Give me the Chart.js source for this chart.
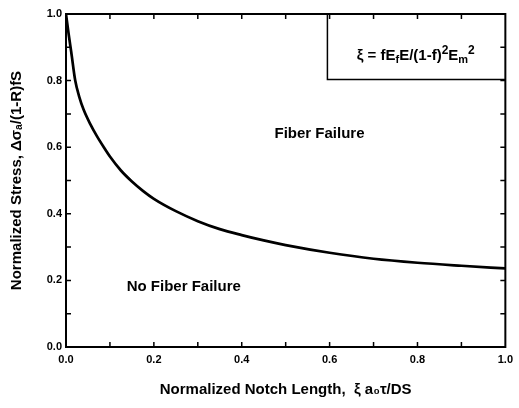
<!DOCTYPE html>
<html><head><meta charset="utf-8">
<script src="https://cdn.jsdelivr.net/npm/chart.js@4"></script>
<style>html,body{margin:0;padding:0;background:#fff}#wrap{width:519px;height:408px}</style>
</head><body><div id="wrap"><canvas id="c" width="519" height="408"></canvas></div>
<script>
// ---- data ----
const notchLength = [0, 0.006, 0.012, 0.021, 0.030, 0.040, 0.055, 0.070, 0.085, 0.100, 0.125, 0.150, 0.175, 0.200, 0.250, 0.300, 0.350, 0.400, 0.450, 0.500, 0.600, 0.700, 0.800, 0.900, 1.000];
const normStress  = [1.0, 0.94, 0.885, 0.800, 0.752, 0.713, 0.670, 0.634, 0.602, 0.572, 0.530, 0.497, 0.469, 0.445, 0.408, 0.378, 0.354, 0.336, 0.320, 0.306, 0.283, 0.265, 0.253, 0.244, 0.236];
const xTickLabels = ["0.0", "0.2", "0.4", "0.6", "0.8", "1.0"];
const yTickLabels = ["0.0", "0.2", "0.4", "0.6", "0.8", "1.0"];
const minorTicks = [0.1, 0.2, 0.3, 0.4, 0.5, 0.6, 0.7, 0.8, 0.9];
const regionLabels = ["Fiber Failure", "No Fiber Failure"];
const xTitle = "Normalized Notch Length,  \u03BE a\u2080\u03C4/DS";
const yTitle = "Normalized Stress, \u0394\u03C3\u2090/(1-R)fS";
const formulaParts = [["\u03BE = fE", "n"], ["f", "sub"], ["E/(1-f)", "n"], ["2", "sup"], ["E", "n"], ["m", "sub"], ["2", "sup"]];

const FONT = "'Liberation Sans', Arial, Helvetica, sans-serif";

const decor = {
  id: 'decor',
  afterDatasetsDraw(chart) {
    const {ctx, chartArea: a, scales: {x, y}} = chart;
    ctx.save();
    ctx.strokeStyle = '#000';
    ctx.fillStyle = '#000';
    // inward ticks on all four sides
    ctx.lineWidth = 1.5;
    ctx.beginPath();
    minorTicks.forEach(v => {
      const px = x.getPixelForValue(v), py = y.getPixelForValue(v);
      ctx.moveTo(px, a.bottom); ctx.lineTo(px, a.bottom - 5);
      ctx.moveTo(px, a.top); ctx.lineTo(px, a.top + 5);
      ctx.moveTo(a.left, py); ctx.lineTo(a.left + 5, py);
      ctx.moveTo(a.right, py); ctx.lineTo(a.right - 5, py);
    });
    ctx.stroke();
    // frame
    ctx.lineWidth = 2;
    ctx.strokeRect(a.left, a.top, a.right - a.left, a.bottom - a.top);
    // formula box
    const bx = x.getPixelForValue(0.595), by = y.getPixelForValue(0.803);
    ctx.lineWidth = 1.5;
    ctx.beginPath();
    ctx.moveTo(bx, a.top); ctx.lineTo(bx, by); ctx.lineTo(a.right, by);
    ctx.stroke();
    // region labels
    ctx.font = "bold 15px " + FONT;
    ctx.textAlign = 'center'; ctx.textBaseline = 'middle';
    ctx.fillText(regionLabels[0], x.getPixelForValue(0.577), y.getPixelForValue(0.64));
    ctx.fillText(regionLabels[1], x.getPixelForValue(0.268), y.getPixelForValue(0.18));
    // formula (rich text)
    const fN = "bold 15px " + FONT, fS = "bold 11px " + FONT, fU = "bold 12px " + FONT;
    const fontOf = m => m === 'n' ? fN : (m === 'sub' ? fS : fU);
    let total = 0;
    formulaParts.forEach(([t, m]) => { ctx.font = fontOf(m); total += ctx.measureText(t).width; });
    let cx = x.getPixelForValue(0.796) - total / 2;
    const base = y.getPixelForValue(0.879) + 6;
    ctx.textAlign = 'left'; ctx.textBaseline = 'alphabetic';
    formulaParts.forEach(([t, m]) => {
      ctx.font = fontOf(m);
      const dy = m === 'sub' ? 3 : (m === 'sup' ? -6 : 0);
      ctx.fillText(t, cx, base + dy);
      cx += ctx.measureText(t).width;
    });
    ctx.restore();
  }
};

new Chart(document.getElementById('c'), {
  type: 'line',
  data: {
    datasets: [{
      data: notchLength.map((v, i) => ({x: v, y: normStress[i]})),
      borderColor: '#000',
      borderWidth: 2.7,
      pointRadius: 0,
      cubicInterpolationMode: 'monotone',
      fill: false
    }]
  },
  options: {
    responsive: false,
    animation: false,
    devicePixelRatio: 1,
    layout: {autoPadding: false, padding: {top: 14, right: 7, left: 0, bottom: 0}},
    plugins: {legend: {display: false}, tooltip: {enabled: false}},
    scales: {
      x: {
        type: 'linear', min: 0, max: 1,
        grid: {display: false, drawTicks: false},
        border: {display: false},
        afterFit(s) { s.height = 61; },
        ticks: {
          stepSize: 0.2, padding: 6, color: '#000',
          font: {family: FONT, size: 11, weight: 'bold'},
          callback: (v, i) => xTickLabels[i]
        },
        title: {display: true, text: xTitle, color: '#000', padding: {top: 0, bottom: 9},
                font: {family: FONT, size: 15, weight: 'bold'}}
      },
      y: {
        type: 'linear', min: 0, max: 1,
        grid: {display: false, drawTicks: false},
        border: {display: false},
        afterFit(s) { s.width = 66; },
        ticks: {
          stepSize: 0.2, padding: 4, color: '#000',
          font: {family: FONT, size: 11, weight: 'bold'},
          callback: (v, i) => yTickLabels[i]
        },
        title: {display: true, text: yTitle, color: '#000', padding: {top: 8, bottom: 0},
                font: {family: FONT, size: 15, weight: 'bold'}}
      }
    }
  },
  plugins: [decor]
});
</script>
</body></html>
